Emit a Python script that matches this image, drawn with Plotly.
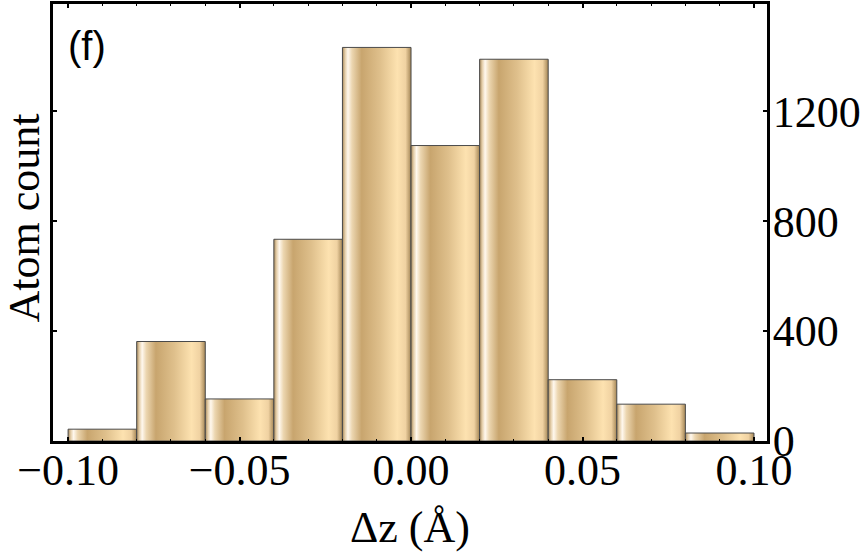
import plotly.graph_objects as go

# Data
bin_edges = [-0.10, -0.08, -0.06, -0.04, -0.02, 0.00, 0.02, 0.04, 0.06, 0.08, 0.10]
counts = [43, 362, 153, 734, 1432, 1075, 1389, 223, 134, 29]
x_tickvals = [-0.10, -0.05, 0.00, 0.05, 0.10]
x_ticktext = ["\u22120.10", "\u22120.05", "0.00", "0.05", "0.10"]
y_tickvals = [0, 400, 800, 1200]
y_ticktext = ["0", "400", "800", "1200"]

gradient = [
    [0.0, "#a88a5c"], [0.04, "#e6d0ac"], [0.08, "#fff8ee"], [0.14, "#ecd6b0"],
    [0.28, "#c8a56e"], [0.55, "#dfc08c"], [0.8, "#fde2b0"], [0.92, "#f0d2a2"],
    [1.0, "#a48656"],
]

fig = go.Figure()
for i, c in enumerate(counts):
    l, r = bin_edges[i], bin_edges[i + 1]
    fig.add_trace(go.Scatter(
        x=[l, r, r, l, l], y=[0, 0, c, c, 0],
        mode="lines", fill="toself",
        fillgradient=dict(type="horizontal", colorscale=gradient),
        line=dict(color="#4a4a4a", width=1),
        hoverinfo="skip", showlegend=False,
    ))

serif = "Liberation Serif"
fig.update_layout(
    width=864, height=555,
    margin=dict(l=53, r=97, t=1, b=114),
    plot_bgcolor="white", paper_bgcolor="white",
    font=dict(family=serif, size=44, color="black"),
    xaxis=dict(
        range=[-0.1044, 0.1038], tickvals=x_tickvals, ticktext=x_ticktext,
        showgrid=False, zeroline=False,
        showline=True, linewidth=3, linecolor="black", mirror="allticks",
        ticks="inside", ticklen=4, tickwidth=2, tickcolor="black",
        minor=dict(dtick=0.01, ticks="inside", ticklen=2, tickwidth=1, tickcolor="black"),
        tickfont=dict(family=serif, size=44), ticklabelstandoff=-12,
        title=dict(text="\u0394z (\u00c5)", font=dict(family=serif, size=44), standoff=18),
    ),
    yaxis=dict(
        range=[0, 1590], side="right", tickvals=y_tickvals, ticktext=y_ticktext,
        showgrid=False, zeroline=False,
        showline=True, linewidth=3, linecolor="black", mirror="allticks",
        ticks="inside", ticklen=4, tickwidth=2, tickcolor="black",
        tickfont=dict(family=serif, size=44), ticklabelstandoff=-6,
    ),
    annotations=[
        dict(text="Atom count", x=-0.040, y=0.51, xref="paper", yref="paper",
             xanchor="center", yanchor="middle", textangle=-90, showarrow=False,
             font=dict(family=serif, size=44)),
        dict(text="(f)", x=0.018, y=0.905, xref="paper", yref="paper",
             xanchor="left", yanchor="middle", showarrow=False,
             font=dict(family="Liberation Sans", size=40)),
    ],
)

fig.write_html("out.html")
